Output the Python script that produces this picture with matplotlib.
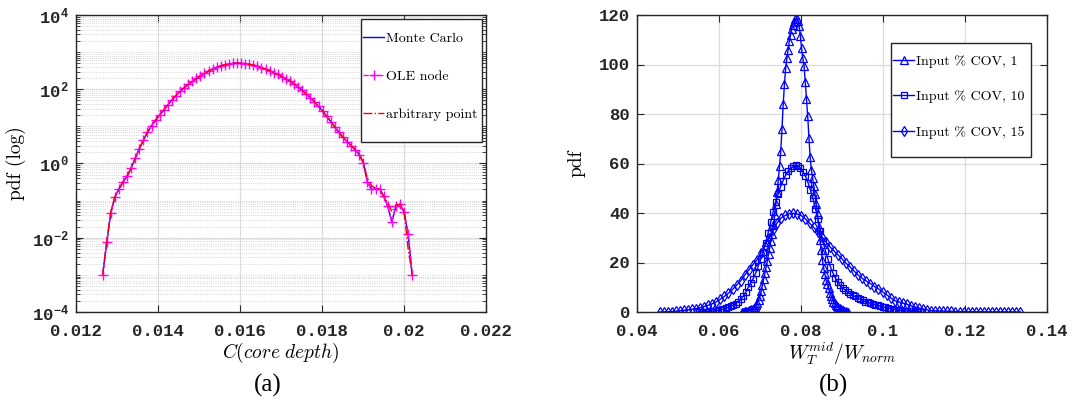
import numpy as np
import matplotlib
matplotlib.use('Agg')
import matplotlib.pyplot as plt
from matplotlib.patches import Rectangle
from matplotlib.ticker import FormatStrFormatter, LogLocator, NullFormatter, MultipleLocator

# MATLAB-like look: bold mono tick labels, CM text for labels
plt.rcParams['font.family'] = ['Liberation Mono', 'DejaVu Sans']
plt.rcParams['font.weight'] = 'bold'
plt.rcParams['mathtext.fontset'] = 'custom'
plt.rcParams['mathtext.rm'] = 'Liberation Mono:bold'
plt.rcParams['axes.unicode_minus'] = True

# ---- (a) core depth pdf, log10 of pdf at each bin ----
c_lo, c_hi = 0.01265, 0.0202
mc_log = [-3.00, -2.12, -1.32, -0.90, -0.68, -0.50, -0.34, -0.12, 0.14, 0.40,
          0.63, 0.84, 1.02, 1.17, 1.31, 1.44, 1.58, 1.71, 1.83, 1.94,
          2.04, 2.13, 2.21, 2.29, 2.36, 2.43, 2.49, 2.54, 2.59, 2.63,
          2.66, 2.68, 2.70, 2.70, 2.70, 2.69, 2.67, 2.65, 2.62, 2.58,
          2.54, 2.50, 2.45, 2.40, 2.34, 2.28, 2.22, 2.14, 2.06, 1.97,
          1.87, 1.77, 1.66, 1.54, 1.41, 1.27, 1.13, 0.98, 0.84, 0.71,
          0.59, 0.48, 0.37, 0.24, 0.02, -0.50, -0.70, -0.68, -0.68, -0.88,
          -1.15, -1.57, -1.15, -1.10, -1.30, -1.90, -3.00]
ole_log = list(mc_log)
arb_log = [-3.00, -2.12, -1.32, -0.90, -0.68, -0.50, -0.34, -0.12, 0.14, 0.40,
           0.63, 0.84, 1.02, 1.17, 1.31, 1.44, 1.58, 1.71, 1.83, 1.94,
           2.04, 2.13, 2.21, 2.29, 2.36, 2.43, 2.49, 2.54, 2.59, 2.63,
           2.66, 2.68, 2.70, 2.70, 2.70, 2.69, 2.67, 2.65, 2.62, 2.58,
           2.54, 2.50, 2.45, 2.40, 2.34, 2.28, 2.22, 2.14, 2.06, 1.97,
           1.87, 1.77, 1.66, 1.54, 1.41, 1.27, 1.13, 0.98, 0.84, 0.71,
           0.59, 0.48, 0.37, 0.24, 0.02, -0.40, -0.60, -0.66, -0.70, -0.88,
           -1.05, -1.30, -1.12, -1.10, -1.30, -2.30, -3.00]
legend_a = ['Monte Carlo', 'OLE node', 'arbitrary point']

# ---- (b) normalised mid-width pdf for three input COV levels ----
cov1_lo, cov1_hi = 0.0655, 0.0915
cov1_pdf = [0.0, 0.1, 0.2, 0.3, 0.5, 0.6, 0.8, 0.9, 1.1, 1.4,
            1.8, 2.2, 2.7, 3.6, 5.0, 6.6, 8.4, 10.8, 13.2, 15.6,
            18.0, 20.6, 23.3, 26.0, 28.8, 31.6, 35.0, 39.0, 43.5, 48.5,
            53.5, 59.0, 65.0, 74.0, 84.0, 92.0, 98.5, 102.5, 106.0, 109.5,
            112.0, 114.5, 116.0, 117.2, 118.2, 118.5, 117.5, 115.5, 111.5, 106.5,
            102.5, 99.5, 93.0, 86.0, 79.0, 70.5, 62.5, 57.5, 54.0, 51.0,
            47.5, 43.5, 39.5, 34.5, 29.0, 25.0, 21.0, 17.8, 15.2, 12.9,
            11.2, 9.6, 7.8, 6.6, 5.4, 4.2, 3.5, 2.8, 2.3, 1.9,
            1.5, 1.2, 0.9, 0.7, 0.5, 0.3, 0.2, 0.0]

cov10_lo, cov10_hi = 0.0550, 0.1090
cov10_pdf = [0.0, 0.05, 0.1, 0.15, 0.2, 0.3, 0.4, 0.5, 0.65, 0.85,
             1.05, 1.5, 1.9, 2.3, 2.8, 3.4, 4.2, 5.1, 6.4, 8.0,
             10.0, 11.8, 13.5, 15.7, 18.5, 21.4, 24.4, 28.0, 32.0, 36.3,
             40.4, 44.3, 47.7, 50.6, 53.1, 55.2, 56.9, 58.0, 58.8, 59.2,
             59.0, 58.1, 56.7, 55.0, 52.3, 49.2, 45.9, 41.8, 37.5, 32.9,
             28.7, 24.8, 21.4, 18.3, 15.9, 13.8, 12.0, 10.8, 9.7, 8.8,
             8.0, 7.3, 6.7, 6.3, 5.5, 5.2, 4.7, 4.2, 3.9, 3.6,
             3.2, 2.9, 2.7, 2.4, 2.1, 1.9, 1.6, 1.4, 1.2, 1.0,
             0.9, 0.7, 0.6, 0.5, 0.4, 0.3, 0.25, 0.2, 0.15, 0.1]

cov15_lo, cov15_hi = 0.0455, 0.1335
cov15_pdf = [0.0, 0.05, 0.1, 0.2, 0.3, 0.5, 0.7, 0.9, 1.1, 1.4,
             1.7, 2.2, 2.7, 3.3, 4.1, 5.2, 6.3, 7.6, 9.1, 10.8,
             12.6, 14.9, 17.0, 19.0, 21.0, 24.0, 26.8, 30.0, 33.0, 36.0,
             38.0, 39.0, 39.7, 39.9, 39.6, 38.9, 37.6, 35.9, 34.2, 32.5,
             30.4, 28.4, 26.4, 24.7, 23.1, 21.5, 19.7, 18.2, 16.5, 14.9,
             13.6, 12.5, 11.5, 10.3, 9.3, 8.2, 7.0, 5.7, 4.6, 4.1,
             3.6, 3.1, 2.5, 2.0, 1.6, 1.2, 0.9, 0.5, 0.45, 0.4,
             0.35, 0.3, 0.25, 0.2, 0.15, 0.1, 0.1, 0.1, 0.08, 0.07,
             0.06, 0.05, 0.04, 0.03, 0.03, 0.02, 0.02, 0.01, 0.01, 0.0]
legend_b = ['Input % COV, 1', 'Input % COV, 10', 'Input % COV, 15']

spine_col = '#262626'
grid_col = '#dcdcdc'
cm_font = 'cmr10'


def style_axes(ax):
    for s in ax.spines.values():
        s.set_color(spine_col)
        s.set_linewidth(1.0)
    ax.tick_params(which='both', direction='in', top=True, right=True,
                   colors=spine_col, labelcolor='#262626', labelsize=12.5)
    ax.tick_params(which='major', length=5)
    ax.tick_params(which='minor', length=3)
    ax.tick_params(axis='x', pad=9)
    ax.tick_params(axis='y', pad=5)
    ax.set_axisbelow(True)


def boxed_legend(ax, anchor, box, spacing):
    # frameless legend plus a separate outline box, so the box can be
    # taller than the entries need (MATLAB style)
    x0, y0, x1, y1 = box
    ax.add_patch(Rectangle((x0, y0), x1 - x0, y1 - y0, transform=ax.transAxes,
                           facecolor='white', edgecolor=spine_col, lw=1.0, zorder=4))
    leg = ax.legend(loc='upper left', bbox_to_anchor=anchor, borderaxespad=0,
                    prop={'family': cm_font, 'size': 10.1, 'weight': 'normal'},
                    handlelength=1.5, handletextpad=0.1, labelspacing=spacing,
                    borderpad=0.1, frameon=False)
    leg.set_zorder(5)
    return leg


fig = plt.figure(figsize=(10.73, 4.08), dpi=100)

# ---------------- (a) ----------------
ax1 = fig.add_axes([76 / 1073, 1 - 312 / 408, 410 / 1073, 297 / 408])
xa = np.linspace(c_lo, c_hi, len(mc_log))
ax1.semilogy(xa, 10 ** np.array(mc_log), '-', color='blue', lw=1.0, label=legend_a[0])
ax1.semilogy(xa, 10 ** np.array(ole_log), '--', color='magenta', lw=1.0,
             marker='+', ms=7, mew=1.0, label=legend_a[1])
ax1.semilogy(xa, 10 ** np.array(arb_log), '-.', color='red', lw=1.0, label=legend_a[2])
ax1.set_xlim(0.012, 0.022)
ax1.set_ylim(1e-4, 1e4)
ax1.set_xticks(np.arange(0.012, 0.0221, 0.002))
ax1.xaxis.set_major_formatter(FormatStrFormatter('%g'))
ax1.set_yticks([1e-4, 1e-2, 1e0, 1e2, 1e4])
ax1.yaxis.set_minor_locator(LogLocator(base=10, subs=np.arange(1, 10), numticks=100))
ax1.yaxis.set_minor_formatter(NullFormatter())
ax1.grid(True, which='major', color=grid_col, lw=0.9)
ax1.grid(True, which='minor', axis='y', color='#c8c8c8', lw=0.6, ls=':')
style_axes(ax1)
ax1.set_ylabel('pdf (log)', fontfamily=cm_font, fontweight='normal', fontsize=14, labelpad=4)
ax1.set_xlabel(r'$C(core\ depth)$', math_fontfamily='cm', fontsize=14, labelpad=1)
boxed_legend(ax1, (0.6976, 0.946), (0.695, 0.572, 0.990, 0.9865), 1.8)

# ---------------- (b) ----------------
ax2 = fig.add_axes([637 / 1073, 1 - 312 / 408, 410 / 1073, 297 / 408])
x1 = np.linspace(cov1_lo, cov1_hi, len(cov1_pdf))
x10 = np.linspace(cov10_lo, cov10_hi, len(cov10_pdf))
x15 = np.linspace(cov15_lo, cov15_hi, len(cov15_pdf))
ax2.plot(x1, cov1_pdf, '-', color='blue', lw=1.0, marker='^', ms=5.5,
         mfc='none', mec='blue', mew=0.9, label=legend_b[0])
ax2.plot(x10, cov10_pdf, '-', color='blue', lw=1.0, marker='s', ms=4.5,
         mfc='none', mec='blue', mew=0.9, label=legend_b[1])
ax2.plot(x15, cov15_pdf, '-', color='blue', lw=1.0, marker='d', ms=5.5,
         mfc='none', mec='blue', mew=0.9, label=legend_b[2])
ax2.set_xlim(0.04, 0.14)
ax2.set_ylim(0, 120)
ax2.set_xticks(np.arange(0.04, 0.141, 0.02))
ax2.xaxis.set_major_formatter(FormatStrFormatter('%g'))
ax2.yaxis.set_major_locator(MultipleLocator(20))
ax2.grid(True, which='major', color=grid_col, lw=0.9)
style_axes(ax2)
ax2.set_ylabel('pdf', fontfamily=cm_font, fontweight='normal', fontsize=14, labelpad=10)
ax2.set_xlabel(r'$W_T^{mid}/W_{norm}$', math_fontfamily='cm', fontsize=14, labelpad=1)
boxed_legend(ax2, (0.622, 0.869), (0.6195, 0.522, 0.961, 0.906), 1.6)

# sub-figure captions
fig.text(268 / 1073, 1 - 385 / 408, '(a)', family='Liberation Serif', weight='normal',
         fontsize=18, ha='center', va='center')
fig.text(833 / 1073, 1 - 385 / 408, '(b)', family='Liberation Serif', weight='normal',
         fontsize=18, ha='center', va='center')

fig.savefig('out.png', dpi=100)
